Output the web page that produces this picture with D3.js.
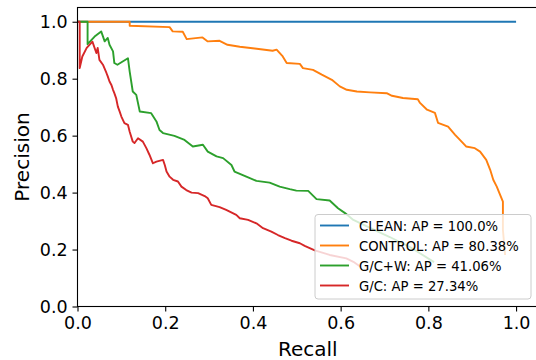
<!DOCTYPE html>
<html>
<head>
<meta charset="utf-8">
<script src="https://cdn.jsdelivr.net/npm/d3@7"></script>
<style>
  body { margin: 0; background: #fff; }
  text { font-family: "DejaVu Sans", sans-serif; }
</style>
</head>
<body>
<div id="chart"></div>
<script>
// data (recall, precision)
const cleanRecall = [0, 1.0]
const cleanPrecision = [1.0, 1.0]

const controlRecall = [0, 0.119, 0.119, 0.21, 0.217, 0.24, 0.249, 0.285, 0.297, 0.324, 0.342, 0.37, 0.404, 0.445, 0.454, 0.468, 0.477, 0.507, 0.514, 0.537, 0.557, 0.58, 0.598, 0.614, 0.637, 0.667, 0.705, 0.717, 0.742, 0.776, 0.781, 0.797, 0.815, 0.822, 0.845, 0.861, 0.872, 0.886, 0.906, 0.918, 0.932, 0.941, 0.948, 0.956, 0.962, 0.97, 0.97, 0.975]
const controlPrecision = [1.0, 1.0, 0.986, 0.981, 0.966, 0.965, 0.939, 0.945, 0.931, 0.933, 0.919, 0.912, 0.906, 0.898, 0.902, 0.878, 0.855, 0.852, 0.837, 0.831, 0.814, 0.796, 0.773, 0.761, 0.755, 0.752, 0.749, 0.74, 0.732, 0.728, 0.715, 0.691, 0.68, 0.645, 0.632, 0.603, 0.585, 0.562, 0.556, 0.544, 0.515, 0.48, 0.445, 0.421, 0.398, 0.368, 0.269, 0.181]

const gcwRecall = [0, 0.023, 0.023, 0.039, 0.054, 0.062, 0.069, 0.073, 0.081, 0.084, 0.091, 0.115, 0.119, 0.126, 0.134, 0.142, 0.168, 0.18, 0.187, 0.195, 0.221, 0.244, 0.263, 0.286, 0.297, 0.317, 0.332, 0.351, 0.358, 0.385, 0.408, 0.438, 0.461, 0.484, 0.499, 0.526, 0.545, 0.575, 0.594, 0.61, 0.629, 0.667, 0.712, 0.758, 0.813]
const gcwPrecision = [1.0, 1.0, 0.921, 0.948, 0.966, 0.931, 0.943, 0.919, 0.896, 0.855, 0.849, 0.872, 0.825, 0.755, 0.743, 0.685, 0.679, 0.65, 0.62, 0.609, 0.599, 0.585, 0.562, 0.568, 0.544, 0.527, 0.521, 0.497, 0.474, 0.456, 0.441, 0.435, 0.421, 0.412, 0.407, 0.406, 0.377, 0.372, 0.345, 0.328, 0.304, 0.276, 0.244, 0.209, 0.156]

const gcRecall = [0, 0.005, 0.005, 0.011, 0.021, 0.034, 0.043, 0.046, 0.05, 0.058, 0.066, 0.069, 0.073, 0.077, 0.081, 0.084, 0.088, 0.092, 0.096, 0.1, 0.107, 0.115, 0.119, 0.126, 0.13, 0.138, 0.149, 0.157, 0.164, 0.172, 0.18, 0.195, 0.199, 0.203, 0.21, 0.218, 0.229, 0.237, 0.248, 0.26, 0.275, 0.29, 0.297, 0.305, 0.324, 0.339, 0.362, 0.37, 0.389, 0.408, 0.423, 0.442, 0.457, 0.473, 0.488, 0.507, 0.518, 0.541, 0.575, 0.613, 0.629, 0.646]
const gcPrecision = [1.0, 1.0, 0.837, 0.878, 0.908, 0.93, 0.89, 0.908, 0.866, 0.849, 0.82, 0.808, 0.79, 0.779, 0.761, 0.749, 0.732, 0.702, 0.685, 0.667, 0.644, 0.638, 0.614, 0.579, 0.574, 0.591, 0.579, 0.556, 0.533, 0.503, 0.509, 0.515, 0.497, 0.474, 0.456, 0.445, 0.439, 0.421, 0.409, 0.4, 0.398, 0.388, 0.38, 0.357, 0.349, 0.339, 0.322, 0.31, 0.304, 0.292, 0.275, 0.263, 0.251, 0.24, 0.231, 0.222, 0.213, 0.197, 0.181, 0.169, 0.157, 0.139]

const seriesLabels = ["CLEAN: AP = 100.0%", "CONTROL: AP = 80.38%", "G/C+W: AP = 41.06%", "G/C: AP = 27.34%"]
const seriesColors = ["#1f77b4", "#ff7f0e", "#2ca02c", "#d62728"]
const tickValues = [0, 0.2, 0.4, 0.6, 0.8, 1.0]

const zip = (rs, ps) => rs.map((r, i) => ({ recall: r, precision: ps[i] }))
const series = [
    zip(cleanRecall, cleanPrecision),
    zip(controlRecall, controlPrecision),
    zip(gcwRecall, gcwPrecision),
    zip(gcRecall, gcPrecision),
]

const xAccessor = d => d.recall
const yAccessor = d => d.precision

// chart dimensions
let dimensions = {
    width: 536,
    height: 360,
    margin: { top: 7.5, right: -2, bottom: 53.5, left: 77.5 },
}
dimensions.boundedWidth = dimensions.width - dimensions.margin.left - dimensions.margin.right
dimensions.boundedHeight = dimensions.height - dimensions.margin.top - dimensions.margin.bottom

const wrapper = d3.select("#chart")
    .append("svg")
    .attr("width", dimensions.width)
    .attr("height", dimensions.height)

const bounds = wrapper.append("g")
    .attr("transform", `translate(${dimensions.margin.left},${dimensions.margin.top})`)

// scales
const xScale = d3.scaleLinear()
    .domain([0, 1.05])
    .range([0, dimensions.boundedWidth])

const yScale = d3.scaleLinear()
    .domain([0, 1.05])
    .range([dimensions.boundedHeight, 0])

// lines
const lineGenerator = d3.line()
    .x(d => xScale(xAccessor(d)))
    .y(d => yScale(yAccessor(d)))

series.forEach((s, i) => {
    bounds.append("path")
        .attr("d", lineGenerator(s))
        .attr("fill", "none")
        .attr("stroke", seriesColors[i])
        .attr("stroke-width", 1.9)
        .attr("stroke-linejoin", "round")
})

// axes
const xAxis = bounds.append("g")
    .attr("transform", `translate(0,${dimensions.boundedHeight})`)
    .call(d3.axisBottom(xScale).tickValues(tickValues).tickFormat(d3.format(".1f"))
        .tickSize(5).tickPadding(5.5).tickSizeOuter(0))

const yAxis = bounds.append("g")
    .call(d3.axisLeft(yScale).tickValues(tickValues).tickFormat(d3.format(".1f"))
        .tickSize(5).tickPadding(4.8).tickSizeOuter(0))

bounds.selectAll(".tick text")
    .style("font-size", "17.5px")
    .attr("fill", "#000")
bounds.selectAll(".tick line").attr("stroke", "#000").attr("stroke-width", 1.1)
bounds.selectAll(".domain").remove()

// spines
bounds.append("rect")
    .attr("width", dimensions.boundedWidth)
    .attr("height", dimensions.boundedHeight)
    .attr("fill", "none")
    .attr("stroke", "#000")
    .attr("stroke-width", 1.1)

// labels
wrapper.append("text")
    .attr("x", dimensions.margin.left + xScale(0.5 * 1.05))
    .attr("y", 356)
    .attr("text-anchor", "middle")
    .style("font-size", "20px")
    .text("Recall")

wrapper.append("text")
    .attr("transform", `translate(28.5,${dimensions.margin.top + dimensions.boundedHeight / 2}) rotate(-90)`)
    .attr("text-anchor", "middle")
    .style("font-size", "20px")
    .text("Precision")

// legend
const legend = wrapper.append("g")
    .attr("transform", "translate(315,214.5)")

legend.append("rect")
    .attr("width", 216)
    .attr("height", 84.5)
    .attr("rx", 3)
    .attr("fill", "#fff")
    .attr("fill-opacity", 0.8)
    .attr("stroke", "#ccc")
    .attr("stroke-width", 1)

seriesLabels.forEach((label, i) => {
    const row = legend.append("g")
        .attr("transform", `translate(0,${11 + i * 20})`)
    row.append("line")
        .attr("x1", 5).attr("x2", 34)
        .attr("stroke", seriesColors[i])
        .attr("stroke-width", 1.9)
    row.append("text")
        .attr("x", 44)
        .attr("dy", "0.38em")
        .style("font-size", "13.2px")
        .text(label)
})
</script>
</body>
</html>
